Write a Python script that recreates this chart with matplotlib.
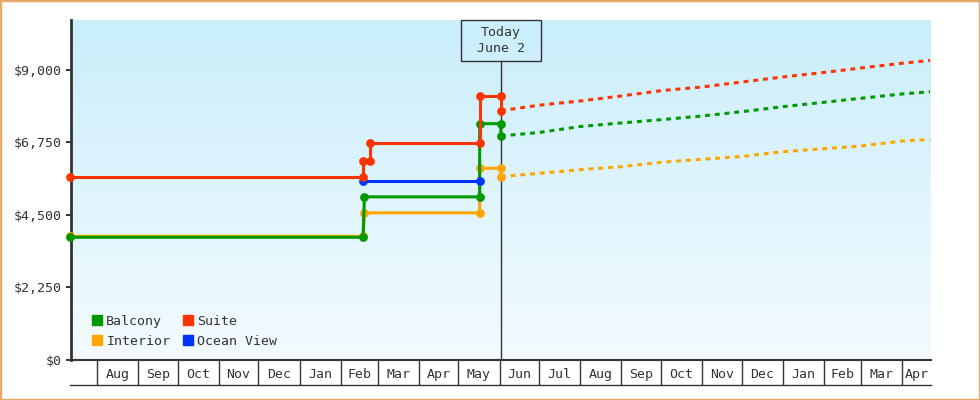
import datetime as dt
import numpy as np
import matplotlib
matplotlib.use('Agg')
import matplotlib.pyplot as plt
import matplotlib.dates as mdates
from matplotlib.patches import Patch, Rectangle
from matplotlib.lines import Line2D
from matplotlib.ticker import FixedLocator, FuncFormatter

plt.rcParams['font.family'] = ['DejaVu Sans Mono']

# price history (date strings, price in $)
balcony_dates = ['2021-07-12', '2022-02-18', '2022-02-19', '2022-05-17', '2022-05-17', '2022-06-02', '2022-06-02']
balcony_prices = [3808, 3808, 5062, 5062, 7333, 7333, 6952]

interior_dates = ['2021-07-12', '2022-02-18', '2022-02-19', '2022-05-17', '2022-05-17', '2022-06-02', '2022-06-02']
interior_prices = [3838, 3838, 4565, 4565, 5949, 5949, 5689]

ocean_dates = ['2022-02-18', '2022-05-17']
ocean_prices = [5540, 5540]

suite_dates = ['2021-07-12', '2022-02-18', '2022-02-18', '2022-02-23', '2022-02-23',
               '2022-05-17', '2022-05-17', '2022-06-02', '2022-06-02']
suite_prices = [5670, 5670, 6176, 6176, 6725, 6725, 8202, 8202, 7737]

# forecast (dashed)
forecast_dates = ['2022-06-02', '2022-07-01', '2022-08-01', '2022-09-01', '2022-10-01', '2022-11-01',
                  '2022-12-01', '2023-01-01', '2023-02-01', '2023-03-01', '2023-04-01', '2023-04-22']
suite_forecast = [7737, 7907, 8038, 8193, 8357, 8472, 8627, 8783, 8922, 9062, 9208, 9295]
balcony_forecast = [6952, 7060, 7246, 7355, 7457, 7572, 7706, 7861, 7997, 8122, 8255, 8323]
interior_forecast = [5689, 5794, 5906, 5999, 6135, 6229, 6315, 6464, 6557, 6641, 6796, 6843]

y_ticks = [0, 2250, 4500, 6750, 9000]
today = '2022-06-02'
today_label = 'Today\nJune 2'

GREEN = '#009900'
ORANGE = '#ffa500'
BLUE = '#0033ff'
RED = '#ff3300'
INK = '#333333'


def to_dates(lst):
    return [dt.datetime.strptime(s, '%Y-%m-%d') for s in lst]


fig = plt.figure(figsize=(9.8, 4), dpi=100)
fig.patch.set_facecolor('white')
W, H = 980, 400
ax = fig.add_axes([71 / W, 40 / H, (930.7 - 71) / W, 340 / H])

# gradient background
grad = np.linspace(0, 1, 256).reshape(-1, 1)
top = np.array([202, 238, 251]) / 255
bot = np.array([243, 251, 255]) / 255
img = top[None, None, :] * (1 - grad[:, :, None]) + bot[None, None, :] * grad[:, :, None]
ax.imshow(img, extent=[0, 1, 0, 1], transform=ax.transAxes, aspect='auto', zorder=0)

x0 = dt.datetime(2021, 7, 12, 12)
x1 = dt.datetime(2023, 4, 22, 12)
ax.set_xlim(x0, x1)
ax.set_ylim(0, 10550)

lw = 2.2
ms = 6.3
series = [
    (interior_dates, interior_prices, ORANGE),
    (balcony_dates, balcony_prices, GREEN),
    (ocean_dates, ocean_prices, BLUE),
    (suite_dates, suite_prices, RED),
]
for dates, prices, col in series:
    ax.plot(to_dates(dates), prices, color=col, lw=lw, marker='o', ms=ms,
            markeredgewidth=0, clip_on=False, zorder=3)

fd = to_dates(forecast_dates)
for vals, col in [(interior_forecast, ORANGE), (balcony_forecast, GREEN), (suite_forecast, RED)]:
    ax.plot(fd, vals, color=col, lw=lw, linestyle=(0, (1.6, 1.6)), zorder=3)

# today line + box
tnum = mdates.date2num(to_dates([today])[0])
tx = (tnum - mdates.date2num(x0)) / (mdates.date2num(x1) - mdates.date2num(x0))
box_bottom = (360 - 60.7) / 340
ax.plot([tx, tx], [0, box_bottom], transform=ax.transAxes, color=INK, lw=1, zorder=2)
bw = 80 / (930.7 - 71)
ax.add_patch(Rectangle((tx - bw / 2, box_bottom), bw, 1 - box_bottom, transform=ax.transAxes,
                       fill=False, ec=INK, lw=1, zorder=4, clip_on=False))
ax.text(tx, (box_bottom + 1) / 2, today_label, transform=ax.transAxes, ha='center', va='center',
        fontsize=9.5, color=INK, linespacing=1.25, zorder=5)

# spines
for s in ['top', 'right']:
    ax.spines[s].set_visible(False)
ax.spines['left'].set_color(INK)
ax.spines['left'].set_linewidth(2)
ax.spines['bottom'].set_color(INK)
ax.spines['bottom'].set_linewidth(1.5)

# y axis
ax.yaxis.set_major_locator(FixedLocator(y_ticks))
ax.yaxis.set_major_formatter(FuncFormatter(lambda v, p: '${:,.0f}'.format(v)))
ax.tick_params(axis='y', direction='out', length=3.6, width=1.4, color=INK,
               labelsize=9.5, labelcolor=INK, pad=3)

# x axis: month cells
ax.xaxis.set_major_locator(mdates.MonthLocator())
ax.xaxis.set_major_formatter(plt.NullFormatter())
ax.tick_params(axis='x', which='major', direction='out', length=18, width=1, color=INK)
months = mdates.MonthLocator().tick_values(x0, x1)
bounds = [mdates.date2num(x0)] + [m for m in months if mdates.date2num(x0) < m < mdates.date2num(x1)] + [mdates.date2num(x1)]
mids = [(a + b) / 2 for a, b in zip(bounds[1:-1], bounds[2:])]
ax.xaxis.set_minor_locator(FixedLocator(mids))
ax.xaxis.set_minor_formatter(FuncFormatter(lambda v, p: mdates.num2date(v).strftime('%b')))
ax.tick_params(axis='x', which='minor', length=0, labelsize=9.5, labelcolor=INK, pad=6)

fig.add_artist(Line2D([70 / W, 930.7 / W], [15 / H, 15 / H], color=INK, lw=1))

# legend
handles = [Patch(color=GREEN, label='Balcony'), Patch(color=ORANGE, label='Interior'),
           Patch(color=RED, label='Suite'), Patch(color=BLUE, label='Ocean View')]
ax.legend(handles=handles, ncol=2, loc='lower left', bbox_to_anchor=(21 / 859.7, 12 / 340),
          frameon=False, fontsize=9.5, handlelength=0.78, handleheight=0.78, handletextpad=0.3,
          columnspacing=0.95, labelspacing=0.55, borderpad=0, borderaxespad=0,
          labelcolor=INK)

# outer border
fig.add_artist(Rectangle((0, 0), 1, 1, transform=fig.transFigure, fill=False,
                         ec='#e8a868', lw=2.5))

fig.savefig('out.png', dpi=100)
